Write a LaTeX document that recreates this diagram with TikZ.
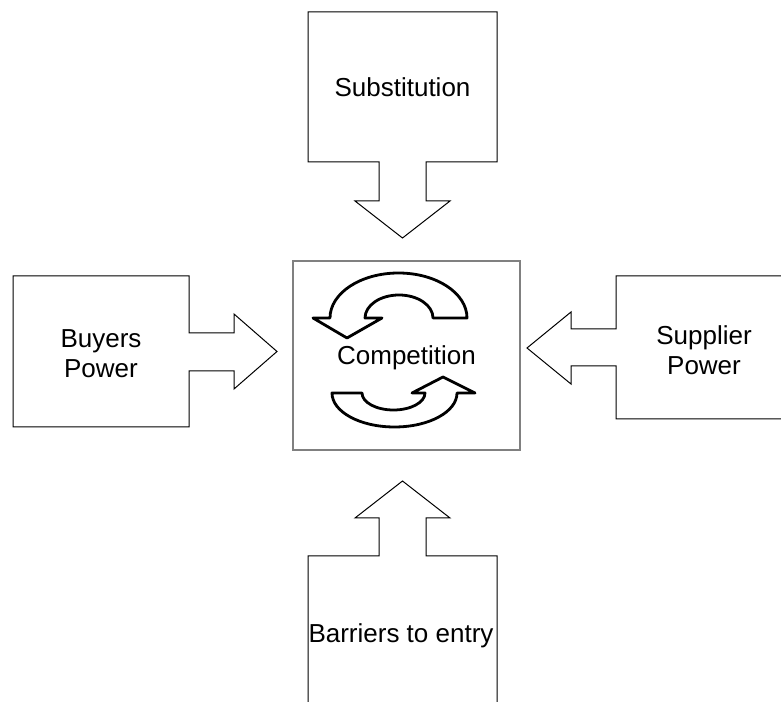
\documentclass[tikz,border=0pt]{standalone}
\usepackage{fontspec}
\setmainfont{Liberation Sans}
\begin{document}
\begin{tikzpicture}[x=1pt, y=1pt,
    callout/.style={draw=black, line width=1pt, fill=white, line join=miter},
    hub/.style={draw=gray, line width=1.3pt, minimum width=227pt, minimum height=189pt},
    cycarrow/.style={draw=black, line width=2.8pt, fill=white, line join=round},
    forcelabel/.style={font=\fontsize{26}{30}\selectfont, align=center, inner sep=0pt}]
    \clip (0,0) rectangle (781,701);

    % Top callout
    \draw[callout] (308,689) -- (497,689) -- (497,539) -- (426,539) -- (426,500) -- (450,500)
        -- (402.5,463) -- (355,500) -- (379,500) -- (379,539) -- (308,539) -- cycle;
    \node[forcelabel, anchor=base] (subst) at (402.5,604) {Substitution};

    % Left callout
    \draw[callout] (13,425) -- (189,425) -- (189,368) -- (234,368) -- (234,387) -- (277,349.5)
        -- (234,312) -- (234,330) -- (189,330) -- (189,274) -- (13,274) -- cycle;
    \node[forcelabel, anchor=base] (buyers) at (101,323) {Buyers\\Power};

    % Right callout (runs off the page)
    \draw[callout] (795,425) -- (616,425) -- (616,372) -- (571,372) -- (571,389) -- (527,353)
        -- (571,317) -- (571,335) -- (616,335) -- (616,282) -- (795,282);
    \node[forcelabel, anchor=base] (supplier) at (704,326) {Supplier\\Power};

    % Bottom callout (runs off the page)
    \draw[callout] (308,-10) -- (308,145) -- (379,145) -- (379,183) -- (355,183) -- (402.5,220)
        -- (450,183) -- (426,183) -- (426,145) -- (497,145) -- (497,-10);
    \node[forcelabel, anchor=base] (barriers) at (401,59) {Barriers to entry};

    % Competition hub
    \node[hub, forcelabel, text depth=0pt] (hub) at (406.5,345.5) {Competition};

    % Cycle arrows
    \draw[cycarrow] (433,383) -- (467,383) arc[start angle=0, end angle=180, x radius=68.5, y radius=45]
        -- (313,383) -- (347,363) -- (382,383) -- (365,383)
        arc[start angle=180, end angle=0, x radius=34, y radius=23] -- cycle;
    \draw[cycarrow] (332,308) -- (362,308) arc[start angle=180, end angle=360, x radius=31.5, y radius=17]
        -- (412,308) -- (443,324) -- (475,308) -- (457,308)
        arc[start angle=0, end angle=-180, x radius=62.5, y radius=34] -- cycle;

\end{tikzpicture}
\end{document}
